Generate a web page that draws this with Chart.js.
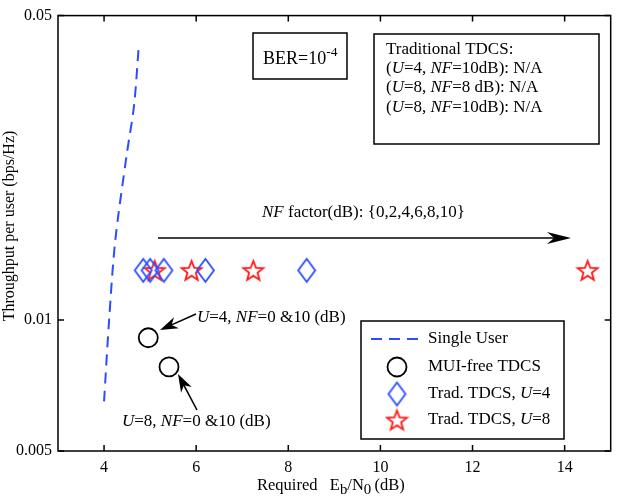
<!DOCTYPE html>
<html>
<head>
<meta charset="utf-8">
<script src="https://cdn.jsdelivr.net/npm/chart.js@4.4.1/dist/chart.umd.min.js"></script>
<style>
  body { margin: 0; background: #fff; }
  canvas { display: block; }
</style>
</head>
<body>
<canvas id="chart" width="622" height="499"></canvas>
<script>
// data
const singleUserX = [4.0, 4.11, 4.24, 4.49, 4.65, 4.75];
const singleUserY = [0.0065, 0.0100, 0.0151, 0.0239, 0.0310, 0.0420];
const muiFreeX = [4.96, 5.41];
const muiFreeY = [0.0091, 0.0078];
const tradU4X = [4.85, 5.0, 5.3, 6.2, 8.4];
const tradU4Y = [0.013, 0.013, 0.013, 0.013, 0.013];
const tradU8X = [5.1, 5.9, 7.24, 14.5];
const tradU8Y = [0.013, 0.013, 0.013, 0.013];
const xTicks = [4, 6, 8, 10, 12, 14];
const yTicks = [0.005, 0.01, 0.05];

const FONT = '"Liberation Serif", "Times New Roman", serif';
const BLUE = '#2a4dff';
const RED = '#ff1a1a';

function pts(xs, ys) {
  return xs.map((x, i) => ({ x: x, y: ys[i] }));
}

// marker images
function makeStar(r, color) {
  const c = document.createElement('canvas');
  c.width = c.height = Math.ceil(2 * r + 4);
  const g = c.getContext('2d');
  const cx = c.width / 2, cy = c.height / 2 + 1;
  g.beginPath();
  for (let k = 0; k < 10; k++) {
    const rr = k % 2 === 0 ? r : r * 0.42;
    const a = -Math.PI / 2 + k * Math.PI / 5;
    const px = cx + rr * Math.cos(a), py = cy + rr * Math.sin(a);
    if (k === 0) g.moveTo(px, py); else g.lineTo(px, py);
  }
  g.closePath();
  g.strokeStyle = color;
  g.lineWidth = 1.8;
  g.stroke();
  return c;
}

function makeDiamond(w, h, color) {
  const c = document.createElement('canvas');
  c.width = w + 4; c.height = h + 4;
  const g = c.getContext('2d');
  const cx = c.width / 2, cy = c.height / 2;
  g.beginPath();
  g.moveTo(cx, cy - h / 2);
  g.lineTo(cx + w / 2, cy);
  g.lineTo(cx, cy + h / 2);
  g.lineTo(cx - w / 2, cy);
  g.closePath();
  g.strokeStyle = color;
  g.lineWidth = 1.8;
  g.stroke();
  return c;
}

const starImg = makeStar(10.5, RED);
const diamondImg = makeDiamond(17, 23, BLUE);

// text with italic / super / subscript pieces
function drawRich(ctx, x, y, parts, size) {
  ctx.textBaseline = 'middle';
  ctx.textAlign = 'left';
  ctx.fillStyle = '#000';
  let cx = x;
  parts.forEach(p => {
    const s = p.sup ? size * 0.75 : (p.sub ? size * 0.9 : size);
    ctx.font = (p.i ? 'italic ' : '') + s + 'px ' + FONT;
    const dy = p.sup ? -size * 0.35 : (p.sub ? size * 0.25 : 0);
    ctx.fillText(p.t, cx, y + dy);
    cx += ctx.measureText(p.t).width;
  });
}

function arrow(ctx, x1, y1, x2, y2, len, half) {
  const a = Math.atan2(y2 - y1, x2 - x1);
  ctx.strokeStyle = '#000';
  ctx.fillStyle = '#000';
  ctx.lineWidth = 1.6;
  ctx.beginPath();
  ctx.moveTo(x1, y1);
  ctx.lineTo(x2 - len * 0.6 * Math.cos(a), y2 - len * 0.6 * Math.sin(a));
  ctx.stroke();
  ctx.save();
  ctx.translate(x2, y2);
  ctx.rotate(a);
  ctx.beginPath();
  ctx.moveTo(0, 0);
  ctx.lineTo(-len, -half);
  ctx.lineTo(-len * 0.7, 0);
  ctx.lineTo(-len, half);
  ctx.closePath();
  ctx.fill();
  ctx.restore();
}

const annotations = {
  id: 'annotations',
  afterDraw(chart) {
    const ctx = chart.ctx;
    const area = chart.chartArea;
    const xs = chart.scales.x, ys = chart.scales.y;
    ctx.save();

    // frame and inward ticks
    ctx.strokeStyle = '#000';
    ctx.lineWidth = 1.5;
    ctx.strokeRect(area.left, area.top, area.right - area.left, area.bottom - area.top);
    ctx.beginPath();
    xTicks.forEach(v => {
      const px = xs.getPixelForValue(v);
      ctx.moveTo(px, area.bottom); ctx.lineTo(px, area.bottom - 6);
      ctx.moveTo(px, area.top); ctx.lineTo(px, area.top + 6);
    });
    yTicks.forEach(v => {
      const py = ys.getPixelForValue(v);
      ctx.moveTo(area.left, py); ctx.lineTo(area.left + 6, py);
      ctx.moveTo(area.right, py); ctx.lineTo(area.right - 6, py);
    });
    ctx.stroke();

    // BER box
    ctx.lineWidth = 1.5;
    ctx.strokeRect(253, 33, 94, 46);
    drawRich(ctx, 263, 59, [{ t: 'BER=10' }, { t: '-4', sup: true }], 18);

    // Traditional TDCS box
    ctx.strokeRect(374, 34, 225, 110);
    const sz = 17;
    drawRich(ctx, 386, 50, [{ t: 'Traditional TDCS:' }], sz);
    drawRich(ctx, 386, 69, [{ t: '(' }, { t: 'U', i: true }, { t: '=4, ' }, { t: 'NF', i: true }, { t: '=10dB): N/A' }], sz);
    drawRich(ctx, 386, 88, [{ t: '(' }, { t: 'U', i: true }, { t: '=8, ' }, { t: 'NF', i: true }, { t: '=8 dB): N/A' }], sz);
    drawRich(ctx, 386, 108, [{ t: '(' }, { t: 'U', i: true }, { t: '=8, ' }, { t: 'NF', i: true }, { t: '=10dB): N/A' }], sz);

    // NF factor arrow
    drawRich(ctx, 262, 213, [{ t: 'NF', i: true }, { t: ' factor(dB): {0,2,4,6,8,10}' }], sz);
    arrow(ctx, 158, 238, 571, 238, 24, 6);

    // circle annotations
    drawRich(ctx, 197, 318, [{ t: 'U', i: true }, { t: '=4, ' }, { t: 'NF', i: true }, { t: '=0 &10 (dB)' }], sz);
    arrow(ctx, 196, 314, 160, 330, 18, 6);
    drawRich(ctx, 122, 422, [{ t: 'U', i: true }, { t: '=8, ' }, { t: 'NF', i: true }, { t: '=0 &10 (dB)' }], sz);
    arrow(ctx, 197, 410, 178, 374, 18, 6);

    // legend
    ctx.lineWidth = 1.5;
    ctx.fillStyle = '#fff';
    ctx.fillRect(361, 321, 203, 118);
    ctx.strokeStyle = '#000';
    ctx.strokeRect(361, 321, 203, 118);
    const lx = 397, tx = 428;
    ctx.strokeStyle = BLUE;
    ctx.lineWidth = 2;
    ctx.setLineDash([11, 7]);
    ctx.beginPath(); ctx.moveTo(371, 339); ctx.lineTo(423, 339); ctx.stroke();
    ctx.setLineDash([]);
    ctx.strokeStyle = '#000';
    ctx.lineWidth = 1.8;
    ctx.beginPath(); ctx.arc(lx, 367, 9.5, 0, Math.PI * 2); ctx.stroke();
    ctx.drawImage(diamondImg, lx - diamondImg.width / 2, 394 - diamondImg.height / 2);
    ctx.drawImage(starImg, lx - starImg.width / 2, 420 - starImg.height / 2);
    drawRich(ctx, tx, 339, [{ t: 'Single User' }], sz);
    drawRich(ctx, tx, 367, [{ t: 'MUI-free TDCS' }], sz);
    drawRich(ctx, tx, 394, [{ t: 'Trad. TDCS, ' }, { t: 'U', i: true }, { t: '=4' }], sz);
    drawRich(ctx, tx, 420, [{ t: 'Trad. TDCS, ' }, { t: 'U', i: true }, { t: '=8' }], sz);

    // axis titles
    drawRich(ctx, 257, 486, [{ t: 'Required   E' }, { t: 'b', sub: true }, { t: '/N' }, { t: '0', sub: true }, { t: '\u2009(dB)' }], 16.5);
    ctx.save();
    ctx.translate(10, 226);
    ctx.rotate(-Math.PI / 2);
    ctx.font = '16px ' + FONT;
    ctx.textAlign = 'center';
    ctx.textBaseline = 'middle';
    ctx.fillStyle = '#000';
    ctx.fillText('Throughput per user (bps/Hz)', 0, 0);
    ctx.restore();

    ctx.restore();
  }
};

new Chart(document.getElementById('chart'), {
  type: 'scatter',
  data: {
    datasets: [
      {
        label: 'Single User',
        data: pts(singleUserX, singleUserY),
        showLine: true,
        borderColor: BLUE,
        borderWidth: 2,
        borderDash: [11, 7],
        pointRadius: 0,
        tension: 0.3
      },
      {
        label: 'MUI-free TDCS',
        data: pts(muiFreeX, muiFreeY),
        pointStyle: 'circle',
        pointRadius: 9.5,
        borderColor: '#000',
        backgroundColor: 'rgba(0,0,0,0)',
        pointBorderWidth: 1.8
      },
      {
        label: 'Trad. TDCS, U=4',
        data: pts(tradU4X, tradU4Y),
        pointStyle: diamondImg,
        borderColor: BLUE
      },
      {
        label: 'Trad. TDCS, U=8',
        data: pts(tradU8X, tradU8Y),
        pointStyle: starImg,
        borderColor: RED
      }
    ]
  },
  options: {
    responsive: false,
    animation: false,
    layout: { padding: { top: 8, right: 3, left: 0, bottom: 0 } },
    plugins: {
      legend: { display: false },
      tooltip: { enabled: false }
    },
    scales: {
      x: {
        type: 'linear',
        min: 3,
        max: 15,
        grid: { display: false, drawTicks: false },
        border: { display: false },
        afterBuildTicks: s => { s.ticks = xTicks.map(v => ({ value: v })); },
        afterFit: s => { s.height = 48; },
        ticks: { color: '#000', font: { family: FONT, size: 16 }, padding: 7 }
      },
      y: {
        type: 'logarithmic',
        min: 0.005,
        max: 0.05,
        grid: { display: false, drawTicks: false },
        border: { display: false },
        afterBuildTicks: s => { s.ticks = yTicks.map(v => ({ value: v })); },
        afterFit: s => { s.width = 58; },
        ticks: {
          color: '#000',
          font: { family: FONT, size: 16 },
          padding: 6,
          callback: v => String(v)
        }
      }
    }
  },
  plugins: [annotations]
});
</script>
</body>
</html>
